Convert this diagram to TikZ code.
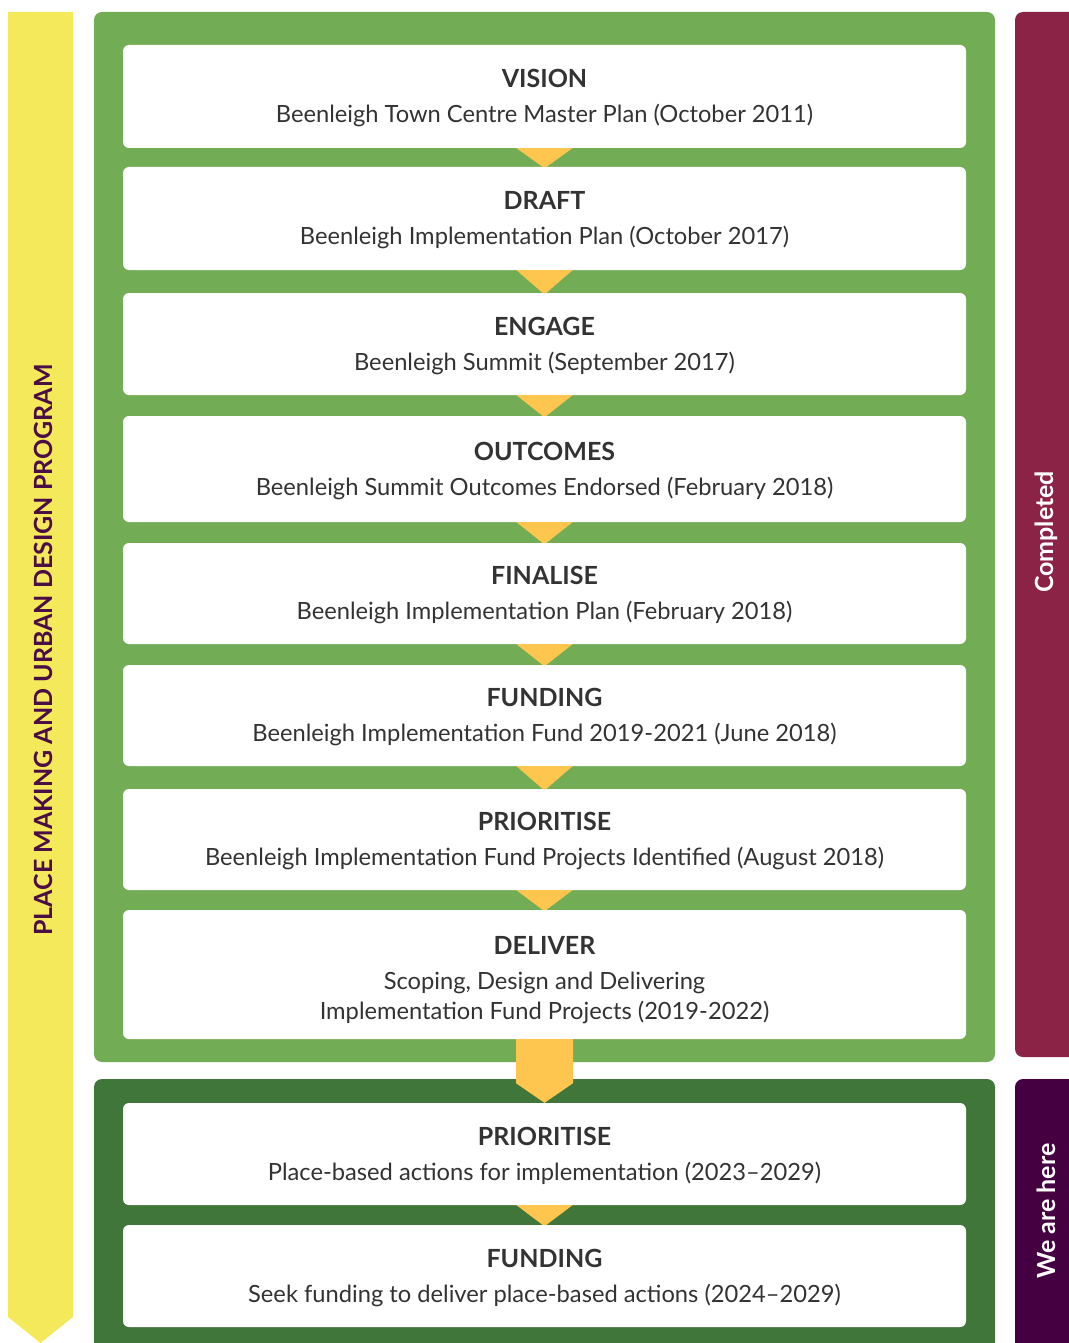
\documentclass[tikz,border=0pt]{standalone}
\usepackage{fontspec}
\setmainfont{Lato}
\usetikzlibrary{calc}
\definecolor{progyellow}{HTML}{F4E85B}
\definecolor{donegreen}{HTML}{72AC55}
\definecolor{heregreen}{HTML}{41763A}
\definecolor{donered}{HTML}{8B2346}
\definecolor{herepurple}{HTML}{450042}
\definecolor{chevyellow}{HTML}{FEC64F}
\definecolor{textgrey}{HTML}{333333}
\definecolor{progpurple}{HTML}{4A0D45}

\begin{document}
\begin{tikzpicture}[x=1pt,y=-1pt]
    \tikzstyle{stage} = [fill=white, rounded corners=6pt, minimum width=843pt, inner sep=0pt]
    \tikzstyle{stagetext} = [align=center, inner sep=0pt, text=textgrey, font=\fontsize{23.7}{30}\selectfont]
    \tikzstyle{chevron} = [fill=chevyellow]
    \tikzstyle{sidelabel} = [rotate=90, font=\fontsize{25}{28}\selectfont\bfseries]
    \useasboundingbox (0,0) rectangle (1068,1343);
    % program arrow
    \fill[progyellow] (8,12) -- (73,12) -- (73,1317) -- (40.5,1343) -- (8,1317) -- cycle;
    \node[sidelabel, text=progpurple] (program) at (43,650) {PLACE MAKING AND URBAN DESIGN PROGRAM};
    % panels
    \fill[donegreen, rounded corners=8pt] (94,12) rectangle (995,1062);
    \fill[heregreen, rounded corners=8pt] (94,1079) rectangle (995,1370);
    \fill[donered, rounded corners=8pt] (1015,12) rectangle (1090,1057);
    \fill[herepurple, rounded corners=8pt] (1015,1079) rectangle (1090,1370);
    \node[sidelabel, text=white] (completed) at (1046,532) {Completed};
    \node[sidelabel, text=white] (wearehere) at (1046,1211) {We are here};
    % stages
    \foreach \y/\h/\s/\name/\head/\body in {
        96.5/103/2/vision/VISION/{Beenleigh Town Centre Master Plan (October 2011)},
        218.5/103/2/draft/DRAFT/{Beenleigh Implementation Plan (October 2017)},
        344/102/2/engage/ENGAGE/{Beenleigh Summit (September 2017)},
        469/106/2/outcomes/OUTCOMES/{Beenleigh Summit Outcomes Endorsed (February 2018)},
        593.5/101/2/finalise/FINALISE/{Beenleigh Implementation Plan (February 2018)},
        715.5/101/2/funding/FUNDING/{Beenleigh Implementation Fund 2019-2021 (June 2018)},
        839.5/101/2/prioritise/PRIORITISE/{Beenleigh Implementation Fund Projects Identified (August 2018)},
        974.5/129/6/deliver/DELIVER/{Scoping, Design and Delivering\\Implementation Fund Projects (2019-2022)},
        1154/102/2/prioritisenext/PRIORITISE/{Place-based actions for implementation (2023--2029)},
        1276/102/2/fundingnext/FUNDING/{Seek funding to deliver place-based actions (2024--2029)}}
    {
        \node[stage, minimum height=\h pt] (\name) at (544.5,\y) {};
        \node[stagetext] (\name-text) at ($(\name.center)+(0,\s)$)
            {{\fontsize{25}{30}\selectfont\bfseries\head}\\[5pt]\body};
    }
    % chevrons
    \foreach \a/\b in {vision/draft, draft/engage, engage/outcomes, outcomes/finalise,
        finalise/funding, funding/prioritise, prioritise/deliver, prioritisenext/fundingnext}
        \fill[chevron] ($(\a.south)+(-28,0)$) -- ($(\a.south)+(28,0)$) -- ($(\b.north)+(2,0)$) -- ($(\b.north)+(-2,0)$) -- cycle;
    \fill[chevron] ($(deliver.south)+(-28.5,0)$) -- ($(deliver.south)+(28.5,0)$) -- ($(deliver.south)+(28.5,44)$)
        -- (prioritisenext.north) -- ($(deliver.south)+(-28.5,44)$) -- cycle;
\end{tikzpicture}
\end{document}
